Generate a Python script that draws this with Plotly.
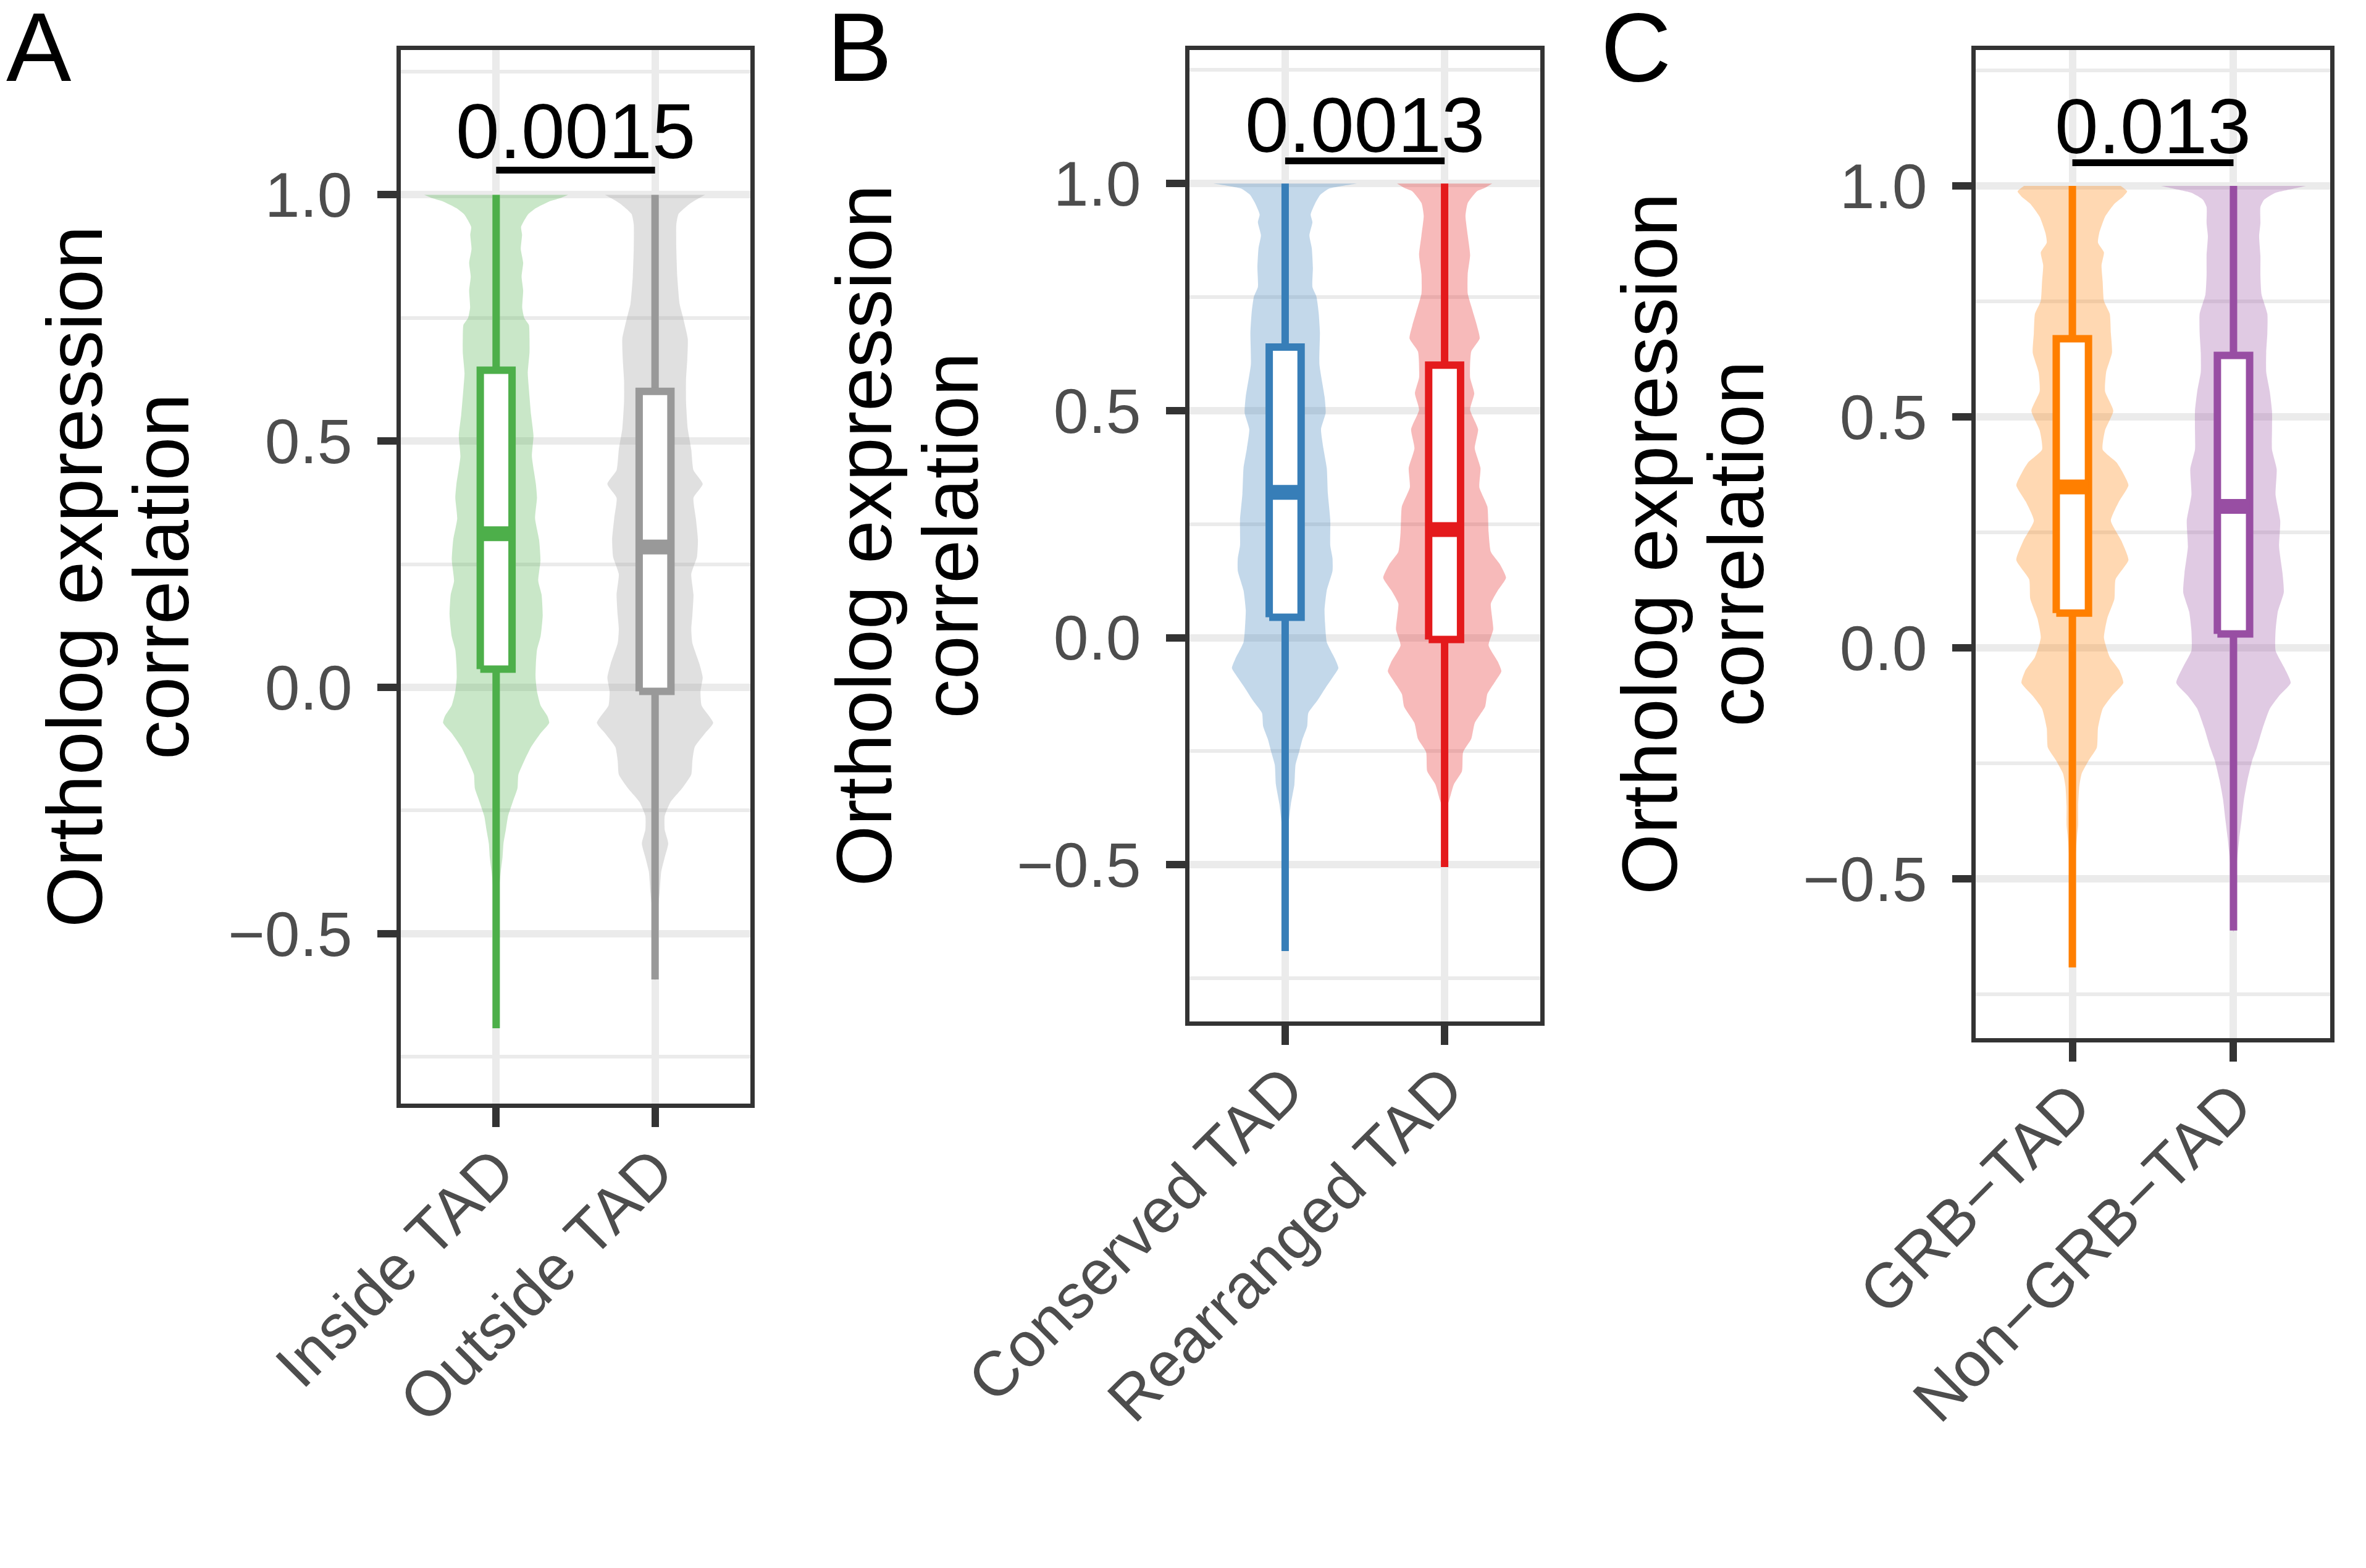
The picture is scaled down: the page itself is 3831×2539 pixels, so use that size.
import plotly.graph_objects as go

# ---------------- data ----------------
categories_A = ["Inside TAD", "Outside TAD"]
categories_B = ["Conserved TAD", "Rearranged TAD"]
categories_C = ["GRB\u2212TAD", "Non\u2212GRB\u2212TAD"]
panel_letters = ["A", "B", "C"]
p_values = ["0.0015", "0.0013", "0.013"]

colors = ["#4DAF4A", "#999999", "#377EB8", "#E41A1C", "#FF7F00", "#984EA3"]

# box statistics per group (A1, A2, B1, B2, C1, C2)
q1 = [0.037, -0.008, 0.045, -0.004, 0.075, 0.030]
median = [0.312, 0.285, 0.320, 0.238, 0.348, 0.306]
q3 = [0.644, 0.601, 0.640, 0.600, 0.669, 0.633]
lower_whisker = [-0.692, -0.593, -0.690, -0.505, -0.692, -0.612]
upper_whisker = [1.0, 1.0, 1.0, 1.0, 1.0, 1.0]

# violin outlines: y level and half-width (x units)
inside_y = [1.0, 0.993, 0.986, 0.973, 0.96, 0.935, 0.919, 0.89, 0.862, 0.834, 0.806, 0.771, 0.75, 0.736,
            0.708, 0.68, 0.638, 0.61, 0.553, 0.511, 0.469, 0.413, 0.385, 0.343, 0.30, 0.258, 0.216, 0.188,
            0.146, 0.104, 0.076, 0.048, 0.02, -0.008, -0.037, -0.058, -0.072, -0.093, -0.121, -0.149,
            -0.177, -0.205, -0.233, -0.261, -0.289, -0.317, -0.345, -0.374, -0.416, -0.5, -0.6, -0.69]
inside_w = [0.453, 0.40, 0.33, 0.25, 0.20, 0.157, 0.163, 0.155, 0.17, 0.16, 0.17, 0.164, 0.177, 0.206,
            0.21, 0.21, 0.199, 0.205, 0.22, 0.235, 0.225, 0.25, 0.257, 0.245, 0.27, 0.279, 0.265, 0.286,
            0.293, 0.28, 0.257, 0.25, 0.248, 0.257, 0.28, 0.322, 0.334, 0.28, 0.22, 0.177,
            0.14, 0.134, 0.104, 0.075, 0.061, 0.046, 0.04, 0.029, 0.017, 0.008, 0.004, 0.001]

outside_y = [1.0, 0.992, 0.982, 0.961, 0.94, 0.89, 0.834, 0.778, 0.75, 0.708, 0.666, 0.624, 0.581, 0.525,
             0.483, 0.441, 0.413, 0.385, 0.343, 0.30, 0.265, 0.23, 0.188, 0.146, 0.118, 0.09, 0.048, 0.02,
             -0.008, -0.037, -0.072, -0.093, -0.121, -0.149, -0.177, -0.205, -0.233, -0.261, -0.289,
             -0.317, -0.345, -0.374, -0.416, -0.444, -0.52, -0.594]
outside_w = [0.315, 0.27, 0.22, 0.148, 0.134, 0.134, 0.14, 0.155, 0.177, 0.206, 0.203, 0.195, 0.195, 0.206,
             0.228, 0.242, 0.30, 0.242, 0.257, 0.27, 0.264, 0.228, 0.242, 0.235, 0.228, 0.235, 0.279, 0.30,
             0.286, 0.293, 0.366, 0.315, 0.25, 0.235, 0.228, 0.17, 0.097, 0.061, 0.061,
             0.083, 0.061, 0.039, 0.029, 0.02, 0.008, 0.002]

conserved_y = [1.0, 0.995, 0.989, 0.975, 0.957, 0.932, 0.915, 0.886, 0.858, 0.815, 0.772, 0.751, 0.716,
               0.673, 0.602, 0.531, 0.495, 0.459, 0.417, 0.374, 0.317, 0.26, 0.203, 0.175, 0.147, 0.104,
               0.061, 0.033, -0.01, -0.046, -0.067, -0.088, -0.11, -0.138, -0.166, -0.195, -0.223, -0.252,
               -0.28, -0.323, -0.366, -0.408, -0.45, -0.55, -0.69]
conserved_w = [0.45, 0.36, 0.276, 0.22, 0.189, 0.16, 0.171, 0.152, 0.167, 0.174, 0.171, 0.196, 0.21,
               0.218, 0.215, 0.247, 0.254, 0.225, 0.24, 0.261, 0.268, 0.283, 0.283, 0.297, 0.297, 0.261,
               0.247, 0.25, 0.261, 0.312, 0.334, 0.297, 0.254, 0.203, 0.145, 0.138, 0.109, 0.087,
               0.065, 0.058, 0.036, 0.022, 0.012, 0.005, 0.001]

rearranged_y = [1.0, 0.99, 0.983, 0.957, 0.929, 0.886, 0.843, 0.801, 0.758, 0.730, 0.687, 0.659, 0.630,
                0.573, 0.538, 0.502, 0.459, 0.417, 0.374, 0.331, 0.289, 0.232, 0.189, 0.161, 0.132, 0.104,
                0.075, 0.047, 0.018, -0.017, -0.053, -0.074, -0.095, -0.124, -0.152, -0.188, -0.223,
                -0.252, -0.294, -0.323, -0.358, -0.373, -0.43, -0.505]
rearranged_w = [0.298, 0.25, 0.203, 0.145, 0.131, 0.145, 0.16, 0.145, 0.145, 0.167, 0.203, 0.22, 0.167,
                0.160, 0.186, 0.160, 0.210, 0.189, 0.225, 0.218, 0.268, 0.276, 0.29, 0.348, 0.385, 0.334,
                0.29, 0.297, 0.305, 0.276, 0.334, 0.356, 0.32, 0.268, 0.254, 0.189, 0.167,
                0.116, 0.109, 0.058, 0.029, 0.015, 0.005, 0.001]

grb_y = [1.0, 0.988, 0.975, 0.961, 0.933, 0.898, 0.877, 0.856, 0.828, 0.793, 0.751, 0.723, 0.681, 0.639,
         0.597, 0.555, 0.513, 0.471, 0.429, 0.401, 0.380, 0.352, 0.317, 0.275, 0.232, 0.190, 0.148, 0.106,
         0.064, 0.022, -0.020, -0.048, -0.076, -0.104, -0.132, -0.174, -0.216, -0.244, -0.272, -0.300,
         -0.342, -0.384, -0.405, -0.5, -0.6, -0.69]
grb_w = [0.30, 0.34, 0.31, 0.261, 0.203, 0.167, 0.159, 0.196, 0.181, 0.188, 0.196, 0.232, 0.239, 0.246,
         0.21, 0.203, 0.254, 0.203, 0.188, 0.275, 0.312, 0.348, 0.29, 0.239, 0.304, 0.348, 0.268, 0.261,
         0.217, 0.196, 0.232, 0.29, 0.316, 0.246, 0.188, 0.159, 0.152, 0.101, 0.058, 0.043,
         0.036, 0.036, 0.03, 0.01, 0.004, 0.001]

nongrb_y = [1.0, 0.993, 0.985, 0.97, 0.954, 0.919, 0.891, 0.849, 0.807, 0.765, 0.723, 0.681, 0.639, 0.597,
            0.555, 0.513, 0.471, 0.429, 0.387, 0.331, 0.275, 0.218, 0.162, 0.12, 0.078, 0.036, -0.006,
            -0.041, -0.076, -0.104, -0.132, -0.174, -0.216, -0.244, -0.286, -0.328, -0.370, -0.412, -0.5,
            -0.615]
nongrb_w = [0.45, 0.36, 0.26, 0.19, 0.167, 0.167, 0.159, 0.167, 0.167, 0.174, 0.21, 0.21, 0.203, 0.203,
            0.225, 0.239, 0.239, 0.239, 0.268, 0.261, 0.29, 0.283, 0.304, 0.312, 0.275, 0.261, 0.261,
            0.312, 0.355, 0.283, 0.225, 0.181, 0.145, 0.116, 0.087, 0.065, 0.051, 0.036, 0.012,
            0.001]

violin_y = [inside_y, outside_y, conserved_y, rearranged_y, grb_y, nongrb_y]
violin_w = [inside_w, outside_w, conserved_w, rearranged_w, grb_w, nongrb_w]

y_title_lines = ["Ortholog expression", "correlation"]
y_tickvals = [-0.5, 0.0, 0.5, 1.0]
y_ticktext = ["\u22120.5", "0.0", "0.5", "1.0"]
y_minor = [-0.75, -0.25, 0.25, 0.75, 1.25]

# ---------------- layout geometry (pixels of the 3831x2539 canvas) ----------------
W, H = 3831, 2539
panels_px = [(641, 1207, 73, 1779), (1918, 2486, 73, 1646), (3191, 3765, 73, 1673)]
letter_x_px = [0, 1329, 2582]
title_x_px = [113, 253]
FONT = "Liberation Sans"
BOX_W = 0.2
BRACKET_Y = 1.05
PTEXT_Y = 1.13


def rgba(hexc, a):
    h = hexc.lstrip("#")
    return "rgba(%d,%d,%d,%.2f)" % (int(h[0:2], 16), int(h[2:4], 16), int(h[4:6], 16), a)


fig = go.Figure()
cats_all = [categories_A, categories_B, categories_C]

for p in range(3):
    xa = "x" if p == 0 else "x%d" % (p + 1)
    ya = "y" if p == 0 else "y%d" % (p + 1)
    common = dict(xaxis=xa, yaxis=ya, hoverinfo="skip", showlegend=False)
    for j in range(2):
        g = 2 * p + j
        pos = j + 1
        c = colors[g]
        vy, vw = violin_y[g], violin_w[g]
        xs = [pos + w for w in vw] + [pos - w for w in reversed(vw)]
        ys = list(vy) + list(reversed(vy))
        fig.add_trace(go.Scatter(x=xs, y=ys, mode="lines", fill="toself",
                                 fillcolor=rgba(c, 0.3),
                                 line=dict(width=0, shape="spline", smoothing=0.5), **common))
    for j in range(2):
        g = 2 * p + j
        pos = j + 1
        c = colors[g]
        hw = BOX_W / 2
        # whiskers
        fig.add_trace(go.Scatter(x=[pos, pos, None, pos, pos],
                                 y=[lower_whisker[g], q1[g], None, q3[g], upper_whisker[g]],
                                 mode="lines", line=dict(color=c, width=12), **common))
        # box body
        fig.add_trace(go.Scatter(x=[pos - hw, pos + hw, pos + hw, pos - hw, pos - hw],
                                 y=[q1[g], q1[g], q3[g], q3[g], q1[g]],
                                 mode="lines", fill="toself", fillcolor="white",
                                 line=dict(color=c, width=12), **common))
        # median
        fig.add_trace(go.Scatter(x=[pos - hw, pos + hw], y=[median[g], median[g]],
                                 mode="lines", line=dict(color=c, width=24), **common))
    # significance bracket
    fig.add_trace(go.Scatter(x=[1, 2], y=[BRACKET_Y, BRACKET_Y], mode="lines",
                             line=dict(color="black", width=11), **common))

layout = dict(width=W, height=H, margin=dict(l=0, r=0, t=0, b=0), autosize=False,
              template="none", paper_bgcolor="white", plot_bgcolor="white",
              font=dict(family=FONT), showlegend=False)

annotations = []
for p in range(3):
    x0, x1, y0, y1 = panels_px[p]
    sfx = "" if p == 0 else str(p + 1)
    layout["xaxis" + sfx] = dict(
        domain=[x0 / W, x1 / W], anchor="y" + sfx, range=[0.4, 2.6],
        tickmode="array", tickvals=[1, 2], ticktext=cats_all[p], tickangle=-45,
        ticks="outside", ticklen=31, tickwidth=12, tickcolor="#333333",
        tickfont=dict(size=102, color="#4D4D4D", family=FONT), ticklabelstandoff=-30,
        showline=True, linecolor="#333333", linewidth=7, mirror=True,
        showgrid=True, gridcolor="#EBEBEB", gridwidth=12, zeroline=False, automargin=False)
    layout["yaxis" + sfx] = dict(
        domain=[1 - y1 / H, 1 - y0 / H], anchor="x" + sfx, range=[-0.845, 1.294],
        tickmode="array", tickvals=y_tickvals, ticktext=y_ticktext,
        ticks="outside", ticklen=31, tickwidth=12, tickcolor="#333333",
        tickfont=dict(size=102, color="#4D4D4D", family=FONT), ticklabelstandoff=20,
        showline=True, linecolor="#333333", linewidth=7, mirror=True,
        showgrid=True, gridcolor="#EBEBEB", gridwidth=12, zeroline=False, automargin=False,
        minor=dict(tickmode="array", tickvals=y_minor, showgrid=True, gridcolor="#EBEBEB",
                   gridwidth=6, ticks=""))
    # p-value text
    annotations.append(dict(x=1.5, y=PTEXT_Y, xref="x" + sfx, yref="y" + sfx, text=p_values[p],
                            showarrow=False, xanchor="center", yanchor="middle",
                            font=dict(size=127, color="black", family=FONT)))
    # y-axis title (two lines)
    cy = (y0 + y1) / 2
    offs = x0 - panels_px[0][0]
    for txt, cx in zip(y_title_lines, title_x_px):
        annotations.append(dict(x=(cx + offs) / W, y=1 - cy / H, xref="paper", yref="paper",
                                text=txt, textangle=-90, showarrow=False,
                                xanchor="center", yanchor="middle",
                                font=dict(size=127, color="black", family=FONT)))
    # panel letter
    annotations.append(dict(x=letter_x_px[p] / W, y=1 - 158 / H, xref="paper", yref="paper",
                            text=panel_letters[p], showarrow=False, xanchor="left", yanchor="bottom",
                            font=dict(size=158, color="black", family=FONT)))

layout["annotations"] = annotations
fig.update_layout(**layout)
fig.write_html("out.html")
